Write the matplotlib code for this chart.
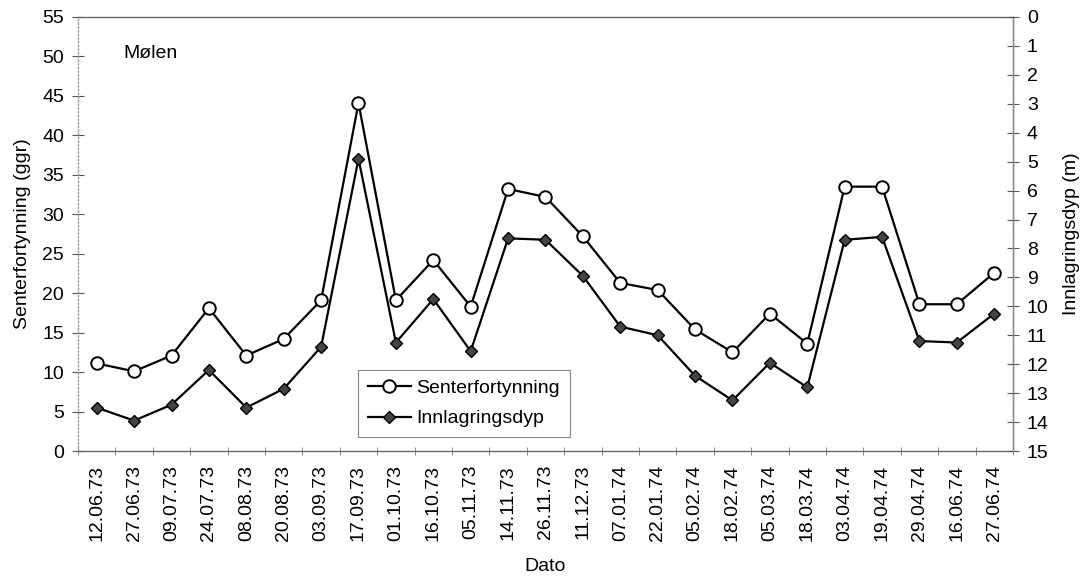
import matplotlib.pyplot as plt

plt.rcParams['font.family'] = ['Liberation Sans', 'DejaVu Sans']

# Data
dates = ['12.06.73', '27.06.73', '09.07.73', '24.07.73', '08.08.73', '20.08.73',
         '03.09.73', '17.09.73', '01.10.73', '16.10.73', '05.11.73', '14.11.73',
         '26.11.73', '11.12.73', '07.01.74', '22.01.74', '05.02.74', '18.02.74',
         '05.03.74', '18.03.74', '03.04.74', '19.04.74', '29.04.74', '16.06.74',
         '27.06.74']
senter = [11.1, 10.1, 12.1, 18.1, 12.1, 14.2, 19.1, 44.1, 19.1, 24.2, 18.3, 33.2,
          32.2, 27.2, 21.3, 20.4, 15.4, 12.5, 17.4, 13.6, 33.5, 33.5, 18.6, 18.6,
          22.6]
dyp = [13.5, 13.95, 13.4, 12.2, 13.5, 12.85, 11.4, 4.9, 11.25, 9.75, 11.55, 7.65,
       7.7, 8.95, 10.7, 11.0, 12.4, 13.25, 11.95, 12.8, 7.7, 7.6, 11.2, 11.25,
       10.25]
left_ticks = list(range(0, 60, 5))
right_ticks = list(range(0, 16))

fs = 14
x = list(range(len(dates)))

fig = plt.figure(figsize=(10.82, 5.78), dpi=100)
ax = fig.add_axes([0.0721, 0.2197, 0.8641, 0.7509])
ax2 = ax.twinx()

l1, = ax.plot(x, senter, color='black', lw=1.6, marker='o', ms=9,
              mfc='white', mec='black', mew=1.4, label='Senterfortynning')
l2, = ax2.plot(x, dyp, color='black', lw=1.6, marker='D', ms=6.5,
               mfc='#444444', mec='black', mew=1.0, label='Innlagringsdyp')

ax.set_xlim(-0.5, len(dates) - 0.5)
ax.set_ylim(0, 55)
ax.set_yticks(left_ticks)
ax2.set_ylim(15, 0)
ax2.set_yticks(right_ticks)

# category labels at centres, tick marks at boundaries
ax.set_xticks(x)
ax.set_xticklabels(dates, rotation=90, fontsize=fs)
ax.set_xticks([i - 0.5 for i in range(len(dates) + 1)], minor=True)
ax.tick_params(axis='x', which='major', length=0, pad=10)
ax.tick_params(axis='x', which='minor', length=6, direction='inout', color='#777777')
ax.tick_params(axis='y', length=8, direction='inout', color='#555555', labelsize=fs, pad=6)
ax2.tick_params(axis='y', length=8, direction='inout', color='#555555', labelsize=fs, pad=6)

for a in (ax, ax2):
    for s in a.spines.values():
        s.set_color('#666666')
        s.set_linewidth(1.0)
ax.spines['left'].set_linestyle(':')
ax.spines['left'].set_color('#999999')
ax2.spines['right'].set_linestyle(':')
ax2.spines['right'].set_color('#999999')
ax2.spines['left'].set_visible(False)
ax2.spines['top'].set_visible(False)
ax2.spines['bottom'].set_visible(False)

ax.set_ylabel('Senterfortynning (ggr)', fontsize=fs, labelpad=8)
ax2.set_ylabel('Innlagringsdyp (m)', fontsize=fs, labelpad=10)
ax.set_xlabel('Dato', fontsize=fs, labelpad=12)

ax.text(0.048, 0.915, 'Mølen', transform=ax.transAxes, fontsize=fs, va='center')

leg = ax2.legend([l1, l2], ['Senterfortynning', 'Innlagringsdyp'],
                 loc='lower left', bbox_to_anchor=(0.2995, 0.032), borderaxespad=0,
                 fontsize=fs, frameon=True, fancybox=False, framealpha=1,
                 edgecolor='#888888', handlelength=2.2, handletextpad=0.3,
                 borderpad=0.5, labelspacing=0.65)
leg.get_frame().set_linewidth(0.8)

fig.savefig('out.png', dpi=100)
